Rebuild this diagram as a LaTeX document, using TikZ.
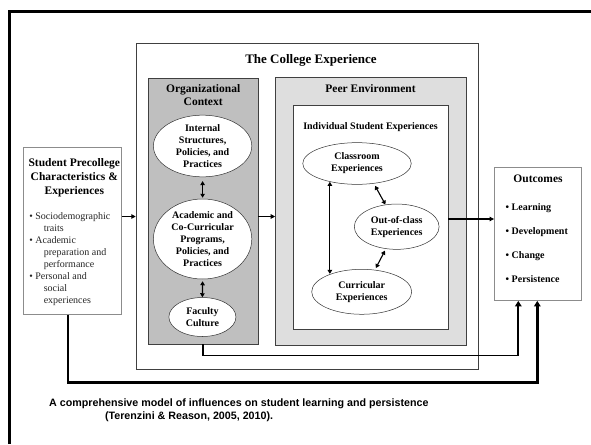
\documentclass[tikz,border=0pt]{standalone}
\usepackage{fontspec}
\setmainfont{Liberation Serif}
\newfontfamily\capfont{Liberation Sans}
\usetikzlibrary{shapes.geometric,arrows.meta,matrix}

\begin{document}
\begin{tikzpicture}[x=1pt,y=-1pt,
box/.style={draw=black!75, line width=0.6pt, inner sep=0pt},
sidebox/.style={draw=black!45, line width=0.8pt, fill=white, inner sep=0pt},
hdr/.style={font=\fontsize{11.5}{13.7}\selectfont\bfseries, align=center, inner sep=0pt},
oval/.style={ellipse, draw=black!80, line width=0.5pt, fill=white, inner sep=0pt, align=center,
    font=\fontsize{10}{12}\selectfont\bfseries},
link/.style={line width=1.1pt, -{Triangle[length=4.5pt,width=4.5pt]}},
both/.style={line width=1.1pt, {Triangle[length=4pt,width=4.5pt]}-{Triangle[length=4pt,width=4.5pt]}},
feed/.style={line width=1.7pt, -{Triangle[length=5.5pt,width=6.5pt]}},
list/.style={matrix of nodes, nodes={anchor=west, inner sep=0pt, text height=7pt, text depth=2pt,
    font=\fontsize{10}{12}\selectfont\bfseries}, row sep=15pt}]

\useasboundingbox (0,0) rectangle (591,444);
\fill[white] (0,0) rectangle (591,444);
\draw[line width=3pt] (9.5,444) |- (591,11.5);

\node[box, minimum width=342.7pt, minimum height=326pt] (college) at (307.4,206.3) {};
\node[hdr, font=\fontsize{13}{15}\selectfont\bfseries] (collegetitle) at (311,60) {The College Experience};

\node[box, fill=black!25, minimum width=109.3pt, minimum height=265.7pt] (org) at (203.2,211.2) {};
\node[hdr] (orgtitle) at (203.2,95.2) {Organizational\\Context};
\node[oval, minimum width=98.4pt, minimum height=61.7pt] (internal) at (202.6,146)
    {Internal\\Structures,\\Policies, and\\Practices};
\node[oval, minimum width=98.4pt, minimum height=80pt] (programs) at (202.6,239)
    {Academic and\\Co-Curricular\\Programs,\\Policies, and\\Practices};
\node[oval, minimum width=67pt, minimum height=39pt] (faculty) at (202.4,317) {Faculty\\Culture};

\node[box, fill=black!13, minimum width=190.4pt, minimum height=267.7pt] (peer) at (370.7,211.2) {};
\node[hdr] (peertitle) at (370.5,88.3) {Peer Environment};
\node[box, fill=white, minimum width=154.2pt, minimum height=224.3pt] (indiv) at (370.7,217.2) {};
\node[hdr, font=\fontsize{10}{12}\selectfont\bfseries] (indivtitle) at (370.5,126.7)
    {Individual Student Experiences};
\node[oval, minimum width=108.5pt, minimum height=41.7pt] (classroom) at (357,163.5)
    {Classroom\\Experiences};
\node[oval, minimum width=84.8pt, minimum height=45.3pt] (outclass) at (396.7,226.7)
    {Out-of-class\\Experiences};
\node[oval, minimum width=100pt, minimum height=45pt] (curricular) at (361.7,291.8)
    {Curricular\\Experiences};

\node[sidebox, minimum width=98pt, minimum height=166.6pt] (pre) at (72.4,231) {};
\node[hdr] (pretitle) at (74.3,177.6) {Student Precollege\\Characteristics \&\\Experiences};
\node[inner sep=0pt, anchor=north west, align=left, font=\fontsize{10}{12}\selectfont, text=black!85]
    (traits) at (29.2,212.4)
    {\textbullet{} Sociodemographic\\\hspace*{14.4pt}traits\\
     \textbullet{} Academic\\\hspace*{14.4pt}preparation and\\\hspace*{14.4pt}performance\\
     \textbullet{} Personal and\\\hspace*{14.4pt}social\\\hspace*{14.4pt}experiences};

\node[sidebox, minimum width=87.1pt, minimum height=132.8pt] (outcomes) at (538,234.1) {};
\node[hdr] (outtitle) at (538,178.3) {Outcomes};
\matrix[list, anchor=north west] (results) at (502.2,200.4) {
\textbullet{} Learning\\
\textbullet{} Development\\
\textbullet{} Change\\
\textbullet{} Persistence\\};

\coordinate (row1) at (0,216.5);
\coordinate (row2) at (0,219);
\coordinate (fac) at (518.3,355.5);
\coordinate (loopa) at (67.8,382.5);
\coordinate (loopb) at (537.3,382.5);

\draw[link] (pre.east |- row1) -- (college.west |- row1);
\draw[link] (org.east |- row1) -- (peer.west |- row1);
\draw[link, line width=1.7pt] (indiv.east |- row2) -- (outcomes.west |- row2);
\draw[both, shorten <=4pt, shorten >=1pt] (internal.south) -- (programs.north);
\draw[both, shorten <=2pt, shorten >=0pt] (programs.south) -- (faculty.north);
\draw[both] (classroom.214) -- (classroom.214 |- curricular.150);
\draw[both, shorten <=2.5pt] (classroom.310) -- (outclass.117);
\draw[both, shorten <=2pt, shorten >=2pt] (outclass.244) -- (curricular.59);
\draw[feed] (org.south) |- (fac) -- (outcomes.south -| fac);
\draw[feed, line width=2.6pt] (pre.south -| loopa) -- (loopa) -- (loopb) -- (outcomes.south -| loopb);

\node[inner sep=0pt, anchor=north west, align=left, font=\capfont\fontsize{10.7}{13.3}\selectfont\bfseries]
    (caption) at (49,398.5)
    {A comprehensive model of influences on student learning and persistence\\
     \hspace*{55.8pt}(Terenzini \& Reason, 2005, 2010).};
\end{tikzpicture}
\end{document}
